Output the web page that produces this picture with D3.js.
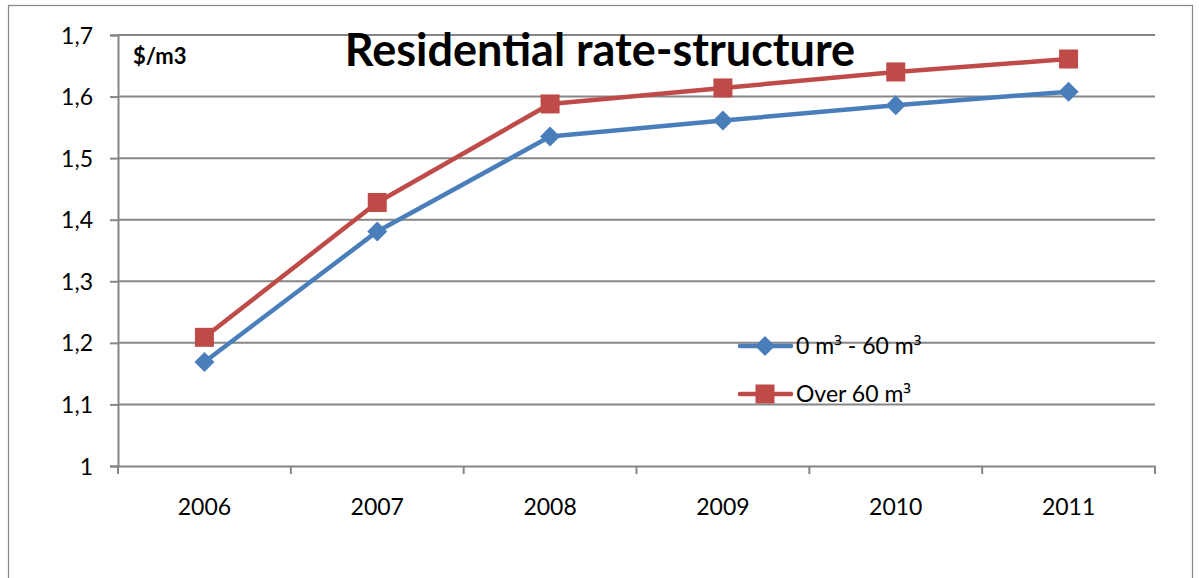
<!DOCTYPE html>
<html>
<head>
<meta charset="utf-8">
<script src="https://cdnjs.cloudflare.com/ajax/libs/d3/7.8.5/d3.min.js"></script>
<style>
  html, body { margin: 0; padding: 0; background: #fff; }
  svg { display: block; }
  text { font-family: Lato, "Open Sans", "Noto Sans", sans-serif; fill: #000; }
</style>
</head>
<body>
<svg id="chart" width="1199" height="578"></svg>
<script>
// Residential water rates, $/m3
const years = ["2006", "2007", "2008", "2009", "2010", "2011"];
const tier1 = [1.169, 1.381, 1.535, 1.561, 1.586, 1.608];   // 0 m³ - 60 m³
const tier2 = [1.209, 1.428, 1.588, 1.614, 1.640, 1.661];   // Over 60 m³
const yTicks = [1, 1.1, 1.2, 1.3, 1.4, 1.5, 1.6, 1.7];
const seriesNames = ["0 m³ - 60 m³", "Over 60 m³"];

const svg = d3.select("#chart");
const plot = { left: 118, right: 1155, top: 35, bottom: 466 };
const gridColor = "#868686";
const blue = "#4a7ebb", red = "#be4b48";

// chart frame
svg.append("rect")
  .attr("x", 8.5).attr("y", 5.5)
  .attr("width", 1184).attr("height", 620)
  .attr("fill", "#fff").attr("stroke", gridColor).attr("stroke-width", 1.2);

const x = d3.scaleBand().domain(years).range([plot.left, plot.right]);
const y = d3.scaleLinear().domain([1, 1.7]).range([plot.bottom, plot.top]);

// horizontal gridlines
svg.append("g")
  .selectAll("line")
  .data(yTicks.slice(1))
  .join("line")
  .attr("x1", plot.left).attr("x2", plot.right)
  .attr("y1", d => y(d)).attr("y2", d => y(d))
  .attr("stroke", gridColor).attr("stroke-width", 2);

// y axis
const yAxis = svg.append("g")
  .attr("transform", `translate(${plot.left},0)`)
  .call(d3.axisLeft(y).tickValues(yTicks).tickSize(8).tickPadding(17)
    .tickFormat(d => String(+d.toFixed(1)).replace(".", ",")));
yAxis.select(".domain").attr("stroke", gridColor).attr("stroke-width", 2);
yAxis.selectAll(".tick line").attr("stroke", gridColor).attr("stroke-width", 2);
yAxis.selectAll(".tick text").style("font-size", "23px").attr("dy", "0.35em");

// x axis with tick marks on category boundaries
const xAxis = svg.append("g")
  .attr("transform", `translate(0,${plot.bottom})`)
  .call(d3.axisBottom(x).tickSize(0).tickPadding(33));
xAxis.select(".domain").attr("stroke", gridColor).attr("stroke-width", 2);
xAxis.selectAll(".tick text").style("font-size", "23px");
const bounds = years.map(d => x(d)).concat([x(years[years.length - 1]) + x.bandwidth()]);
xAxis.selectAll("line.bound")
  .data(bounds)
  .join("line")
  .attr("class", "bound")
  .attr("x1", d => d).attr("x2", d => d)
  .attr("y1", 0).attr("y2", 8)
  .attr("stroke", gridColor).attr("stroke-width", 2);

const cx = d => x(d) + x.bandwidth() / 2;
const line = d3.line().x((d, i) => cx(years[i])).y(d => y(d));

function diamond(g, px, py, s, color) {
  g.append("path")
    .attr("d", `M${px},${py - s}L${px + s},${py}L${px},${py + s}L${px - s},${py}Z`)
    .attr("fill", color);
}
function square(g, px, py, s, color) {
  g.append("rect")
    .attr("x", px - s).attr("y", py - s)
    .attr("width", 2 * s).attr("height", 2 * s)
    .attr("fill", color);
}

// series lines
const series = svg.append("g");
series.append("path").datum(tier1).attr("d", line)
  .attr("fill", "none").attr("stroke", blue).attr("stroke-width", 4.5).attr("stroke-linejoin", "round");
series.append("path").datum(tier2).attr("d", line)
  .attr("fill", "none").attr("stroke", red).attr("stroke-width", 4.5).attr("stroke-linejoin", "round");
tier1.forEach((v, i) => diamond(series, cx(years[i]), y(v), 10, blue));
tier2.forEach((v, i) => square(series, cx(years[i]), y(v), 9.5, red));

// title and unit
svg.append("text")
  .attr("x", 600).attr("y", 66)
  .attr("text-anchor", "middle")
  .style("font-size", "45px").style("font-weight", "bold")
  .text("Residential rate-structure");
svg.append("text")
  .attr("x", 133).attr("y", 64)
  .style("font-size", "22px").style("font-weight", "bold")
  .text("$/m3");

// legend
const legend = svg.append("g");
const legendRows = [
  { name: seriesNames[0], color: blue, y: 346, marker: diamond, s: 10 },
  { name: seriesNames[1], color: red, y: 394, marker: square, s: 9.5 }
];
legendRows.forEach(r => {
  legend.append("line")
    .attr("x1", 740).attr("x2", 791)
    .attr("y1", r.y).attr("y2", r.y)
    .attr("stroke", r.color).attr("stroke-width", 4.5).attr("stroke-linecap", "round");
  r.marker(legend, 765, r.y, r.s, r.color);
  const t = legend.append("text")
    .attr("x", 796).attr("y", r.y).attr("dy", "0.35em")
    .style("font-size", "23px");
  // the superscript three gets a font with a fuller-sized glyph
  r.name.split(/(³)/).filter(s => s.length).forEach(part => {
    const sp = t.append("tspan").text(part);
    if (part === "³") sp.style("font-family", "'Open Sans', 'Noto Sans', sans-serif").style("font-size", "22px");
  });
});
</script>
</body>
</html>
